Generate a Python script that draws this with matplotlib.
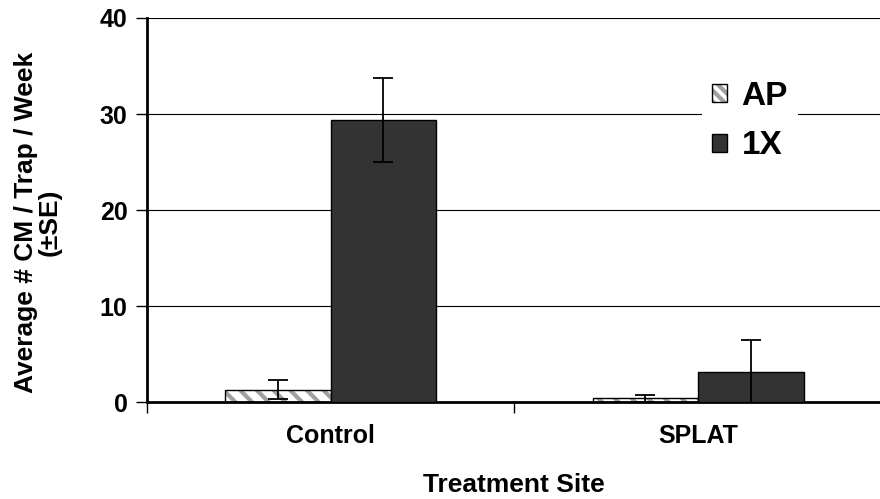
import numpy as np
import matplotlib
matplotlib.use("Agg")
import matplotlib.pyplot as plt
from matplotlib.patches import Patch

sites = ["Control", "SPLAT"]
ap_mean = [1.3, 0.4]
ap_se = [1.0, 0.4]
x1_mean = [29.4, 3.1]
x1_se = [4.4, 3.4]

plt.rcParams['font.family'] = ['Liberation Sans', 'DejaVu Sans']
plt.rcParams['hatch.linewidth'] = 3.0

fig = plt.figure(figsize=(8.8, 4.99), dpi=100)
ax = fig.add_axes([0.167, 0.194, 0.835, 0.770])

x = np.arange(len(sites))
w = 0.287
eb = dict(ecolor='black', elinewidth=1.3, capsize=7, capthick=1.3)
# hatched fill in grey, then black outline on top
ax.bar(x - w/2, ap_mean, w, color='white', edgecolor='#a0a0a0',
       linewidth=0, hatch='\\\\', zorder=2)
ax.bar(x - w/2, ap_mean, w, yerr=ap_se, facecolor='none', edgecolor='black',
       linewidth=1.0, error_kw=eb, zorder=3)
ax.bar(x + w/2, x1_mean, w, yerr=x1_se, color='#333333', edgecolor='black',
       linewidth=1.0, error_kw=eb, zorder=3)

# legend handles
h_ap = Patch(facecolor='white', edgecolor='#a0a0a0', hatch='\\\\\\', linewidth=0)
h_ap_edge = Patch(facecolor='none', edgecolor='black', linewidth=1.0)
h_1x = Patch(facecolor='#333333', edgecolor='black', linewidth=1.0)

ax.set_xlim(-0.5, 1.5)
ax.set_ylim(0, 40)
ax.set_yticks([0, 10, 20, 30, 40])
ax.set_xticks(x)
ax.set_xticklabels(sites)
ax.set_xticks([-0.5, 0.5, 1.5], minor=True)
ax.tick_params(axis='x', which='major', length=0, pad=16)
ax.tick_params(axis='x', which='minor', length=8, width=1.0, direction='out')
ax.tick_params(axis='y', length=8, width=1.0, direction='out', pad=6)
for lab in ax.get_xticklabels() + ax.get_yticklabels():
    lab.set_fontsize(18)
    lab.set_fontweight('bold')

ax.yaxis.grid(True, color='black', linewidth=0.8)
ax.set_axisbelow(True)
for s in ['top', 'right']:
    ax.spines[s].set_visible(False)
ax.spines['left'].set_linewidth(2.0)
ax.spines['bottom'].set_linewidth(2.0)

ax.set_ylabel("Average # CM / Trap / Week\n(±SE)", fontsize=19,
              fontweight='bold', linespacing=1.0)
ax.yaxis.set_label_coords(-0.116, 0.469)
ax.set_xlabel("Treatment Site", fontsize=19, fontweight='bold')
ax.xaxis.set_label_coords(0.5, -0.183)

leg = ax.legend([(h_ap, h_ap_edge), h_1x], ['AP', '1X'], loc='upper left',
                bbox_to_anchor=(0.732, 0.905), frameon=True,
                edgecolor='none', framealpha=1, fancybox=False,
                prop={'size': 24, 'weight': 'bold'}, handlelength=0.45,
                handleheight=0.45, handletextpad=0.45, labelspacing=0.55,
                borderpad=0.3)

fig.savefig("out.png", dpi=100)
